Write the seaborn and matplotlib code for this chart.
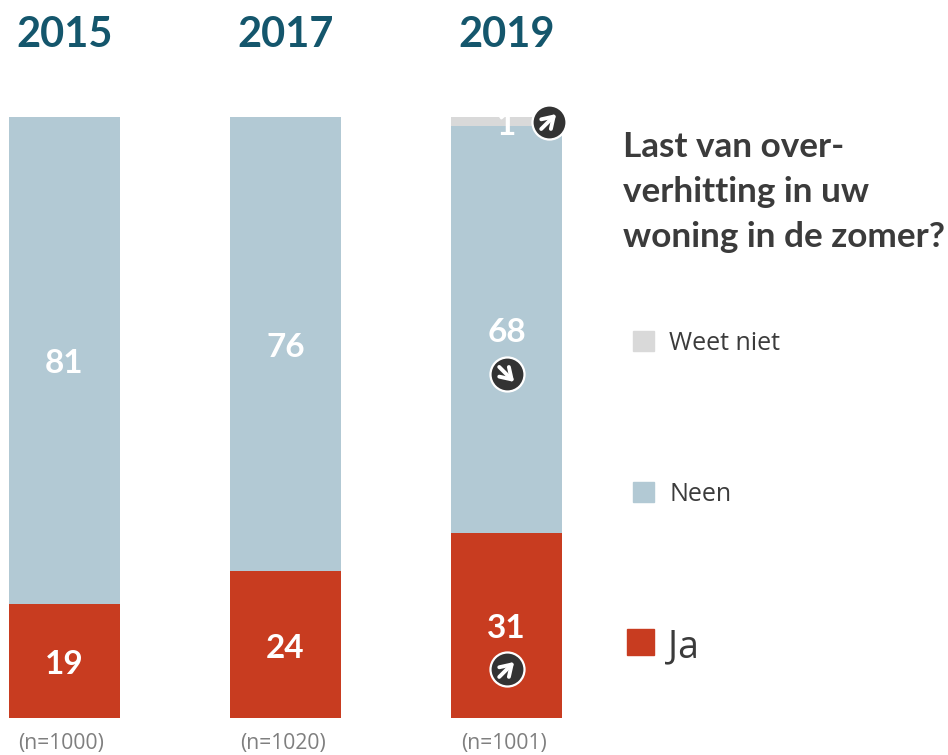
import matplotlib
matplotlib.use("Agg")
import matplotlib.pyplot as plt
import matplotlib.transforms as mtrans
from matplotlib.patches import Patch
import seaborn as sns

years = ["2015", "2017", "2019"]
sizes = ["(n=1000)", "(n=1020)", "(n=1001)"]
ja = [19, 24.4, 30.8]
neen = [81, 75.6, 67.7]
weet_niet = [0, 0, 1.5]
ja_labels = ["19", "24", "31"]
neen_labels = ["81", "76", "68"]
weet_label = "1"
RED, BLUE, GREY = "#c83c20", "#b2c9d4", "#d9d9d9"
TEAL, DARK = "#14566c", "#3b3b3b"

sns.set_theme(style="white")
plt.rcParams["font.family"] = ["Lato", "DejaVu Sans"]
W, H = 948, 755
fig = plt.figure(figsize=(W / 100, H / 100), dpi=100)
ax = fig.add_axes([9 / W, 1 - 718 / H, 553 / W, 601 / H])

bottom_neen = ja
bottom_weet = [a + b for a, b in zip(ja, neen)]
bar_kw = dict(width=0.5, saturation=1, linewidth=0, ax=ax)
sns.barplot(x=years, y=ja, color=RED, **bar_kw)
sns.barplot(x=years, y=neen, bottom=bottom_neen, color=BLUE, **bar_kw)
sns.barplot(x=years[2:], y=weet_niet[2:], bottom=bottom_weet[2:], color=GREY, **bar_kw)
ax.set_xlim(-0.25, 2.25)
ax.set_ylim(0, 100)
ax.set_yticks([])
sns.despine(ax=ax, left=True, bottom=True)

ax.set_xticks(range(3), years)
ax.tick_params(axis="x", bottom=False, top=False, labelbottom=False, labeltop=True, pad=39.5)
for t in ax.get_xticklabels():
    t.set(fontsize=30, fontweight="bold", color=TEAL)

sec = ax.secondary_xaxis("bottom")
sec.set_xticks(range(3), sizes)
sec.tick_params(axis="x", bottom=False, pad=4.8)
sec.spines["bottom"].set_visible(False)
shift = mtrans.ScaledTranslation(-3 / 100, 0, fig.dpi_scale_trans)
for t in sec.get_xticklabels():
    t.set(fontsize=15.2, color="#7f7f7f", family="Open Sans")
    t.set_transform(t.get_transform() + shift)

label_tr = mtrans.offset_copy(ax.transData, fig=fig, x=0, y=-3.5, units="dots")
value_font = dict(ha="center", va="center", color="white", fontsize=24, fontweight="bold",
                  transform=label_tr, clip_on=False)
for i in range(3):
    ax.text(i, ja[i] / 2, ja_labels[i], **value_font)
    ax.text(i, ja[i] + neen[i] / 2, neen_labels[i], **value_font)
ax.text(2, bottom_weet[2] + weet_niet[2] / 2, weet_label, **value_font)


def badge(x, y, ox, oy, up=True):
    tr = mtrans.offset_copy(ax.transData, fig=fig, x=ox, y=oy, units="dots")
    ax.plot([x], [y], "o", ms=24.5, mfc="#333333", mec="white", mew=1.6,
            transform=tr, clip_on=False, zorder=5)
    d = 7.5
    start = (-d, -d) if up else (-d, d)
    end = (d, d) if up else (d, -d)
    fx, fy = tr.transform((x, y))
    ax.annotate("", xy=(fx + end[0], fy + end[1]), xytext=(fx + start[0], fy + start[1]),
                xycoords="figure pixels", textcoords="figure pixels", zorder=6,
                arrowprops=dict(arrowstyle="->,head_length=0.55,head_width=0.35", color="white",
                                lw=2.8, shrinkA=0, shrinkB=0, mutation_scale=14))


badge(2, ja[2] / 2, 0, -44, up=True)
badge(2, ja[2] + neen[2] / 2, 0, -45, up=False)
badge(2, bottom_weet[2] + weet_niet[2] / 2, 42, 0, up=True)

fig.text(623 / W, 1 - 131 / H, "Last van over-\nverhitting in uw\nwoning in de zomer?",
         fontsize=25.3, fontweight="bold", color=DARK, va="top", ha="left", linespacing=1.5)

handles = [Patch(color=GREY), Patch(color=BLUE), Patch(color=RED)]
labels = ["Weet niet", "Neen", "Ja"]
leg = fig.legend(handles, labels, loc="upper left", bbox_to_anchor=(633 / W, 1 - 331 / H),
                 bbox_transform=fig.transFigure, frameon=False, borderpad=0, borderaxespad=0,
                 labelspacing=5.03, handlelength=0.84, handleheight=0.84, handletextpad=0.6,
                 prop={"family": "Open Sans", "size": 18}, labelcolor=DARK)
fig.canvas.draw()
ja_patch = leg.get_patches()[2]
ja_patch.set_x(ja_patch.get_x() - 4.5)
ja_patch.set_y(ja_patch.get_y() + 5.5)
ja_patch.set_width(ja_patch.get_width() + 4.5)
ja_patch.set_height(ja_patch.get_height() + 4.5)
ja_text = leg.get_texts()[2]
ja_text.set_fontsize(27)
ja_text.set_position((-1, 4))

fig.savefig("out.png", dpi=100)
